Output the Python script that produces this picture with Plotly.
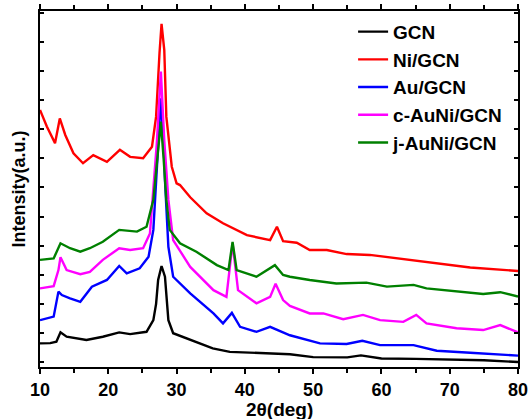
import plotly.graph_objects as go

# ---- data (y in arbitrary offset units) ----
gcn_x = [10, 11.5, 12.4, 13.0, 13.9, 16.8, 19.2, 21.6, 23.2, 25.6, 26.6, 27.0, 27.3, 27.8, 28.3, 28.6, 28.8, 29.5,
         32.0, 35.3, 37.8, 42.7, 46.6, 50, 55, 57, 60, 65, 70, 75, 80]
gcn_y = [0.64, 0.65, 0.70, 1.02, 0.87, 0.76, 0.87, 1.02, 0.96, 1.04, 1.44, 2.0, 2.82, 3.30, 2.93, 2.0, 1.44, 0.99,
         0.76, 0.47, 0.35, 0.30, 0.27, 0.17, 0.16, 0.23, 0.12, 0.11, 0.09, 0.06, 0.0]

ni_x = [10, 11.0, 12.2, 12.9, 13.7, 14.9, 16.3, 17.8, 19.8, 21.7, 23.2, 25.1, 26.4, 27.0, 27.5, 27.8, 28.2, 28.5,
        29.3, 30.0, 30.5, 32.0, 34.4, 36.8, 40.3, 43.7, 44.7, 45.6, 47.6, 49.5, 52.0, 54.9, 58.3, 63.2, 68.1, 73.0, 80]
ni_y = [8.66, 8.09, 7.52, 8.37, 7.80, 7.17, 6.83, 7.11, 6.88, 7.29, 7.05, 7.00, 7.40, 8.43, 10.61, 11.62, 10.72, 8.43,
        6.71, 6.14, 6.08, 5.66, 5.11, 4.77, 4.36, 4.19, 4.65, 4.15, 4.10, 3.85, 3.85, 3.71, 3.68, 3.53, 3.39, 3.25, 3.13]

au_x = [10, 12.0, 12.7, 13.2, 14.4, 15.9, 17.6, 19.8, 21.6, 22.7, 24.6, 25.9, 26.6, 27.2, 27.7, 28.1, 28.3, 28.8,
        29.5, 32.0, 35.4, 36.8, 38.1, 39.3, 41.7, 43.7, 46.6, 51.0, 54.9, 57.2, 59.8, 64.7, 68.1, 73.0, 80]
au_y = [1.44, 1.56, 2.42, 2.30, 2.19, 2.07, 2.59, 2.82, 3.30, 3.05, 3.22, 3.62, 4.54, 7.0, 9.06, 7.5, 6.25, 3.96,
        2.93, 2.36, 1.67, 1.33, 1.69, 1.21, 1.04, 1.21, 0.92, 0.64, 0.62, 0.73, 0.58, 0.58, 0.39, 0.32, 0.22]

cauni_x = [10, 12.0, 12.7, 13.0, 13.9, 15.9, 17.3, 19.2, 21.6, 23.2, 25.1, 26.1, 27.1, 27.7, 28.2, 28.8, 29.5,
           32.0, 35.4, 37.3, 38.2, 39.0, 41.7, 43.7, 44.5, 45.6, 46.6, 49.5, 51.5, 54.4, 57.3, 59.8, 63.2, 65.1,
           66.6, 71.0, 74.9, 77.4, 80]
cauni_y = [2.53, 2.61, 3.16, 3.60, 3.16, 3.02, 3.10, 3.51, 3.91, 3.85, 3.91, 4.42, 7.5, 9.98, 7.6, 5.57, 4.19,
           3.27, 2.47, 2.24, 4.08, 2.47, 2.02, 2.24, 2.69, 2.13, 1.93, 1.67, 1.67, 1.47, 1.62, 1.44, 1.38, 1.62,
           1.33, 1.16, 1.10, 1.27, 1.02]

jauni_x = [10, 12.0, 13.0, 14.4, 15.9, 17.3, 19.2, 21.6, 24.2, 25.6, 26.6, 27.2, 27.7, 28.1, 28.5, 29.0, 30.5,
           32.9, 35.9, 37.6, 38.2, 38.8, 41.7, 44.4, 45.6, 46.6, 49.5, 53.4, 57.8, 60.8, 64.7, 66.6, 71.0, 74.9,
           77.4, 80]
jauni_y = [3.51, 3.56, 4.08, 3.91, 3.79, 3.91, 4.13, 4.54, 4.48, 4.65, 5.57, 7.0, 8.26, 7.0, 5.57, 4.54, 4.08,
           3.79, 3.33, 3.16, 4.13, 3.16, 2.93, 3.33, 2.99, 2.93, 2.82, 2.70, 2.73, 2.59, 2.65, 2.53, 2.42, 2.34,
           2.40, 2.25]

series = [
    ("GCN", gcn_x, gcn_y, "#000000"),
    ("Ni/GCN", ni_x, ni_y, "#ff0000"),
    ("Au/GCN", au_x, au_y, "#0000ff"),
    ("c-AuNi/GCN", cauni_x, cauni_y, "#ff00ff"),
    ("j-AuNi/GCN", jauni_x, jauni_y, "#008000"),
]

FONT = "Liberation Sans, Arial, sans-serif"

fig = go.Figure()
for name, xs, ys, col in series:
    fig.add_trace(go.Scatter(x=xs, y=ys, mode="lines", name=name,
                             line=dict(color=col, width=2.4)))

fig.update_layout(
    width=531, height=419,
    margin=dict(l=40, r=13, t=11, b=52, autoexpand=False),
    paper_bgcolor="white", plot_bgcolor="white",
    font=dict(family=FONT, size=19, color="black", weight="bold"),
    showlegend=True,
    legend=dict(x=0.655, y=0.995, xanchor="left", yanchor="top",
                bgcolor="rgba(0,0,0,0)", borderwidth=0,
                font=dict(family=FONT, size=19, color="black", weight="bold"),
                tracegroupgap=0),
    annotations=[dict(text="2θ(deg)", xref="paper", yref="paper", x=0.5, y=-0.118,
                      xanchor="center", yanchor="middle", showarrow=False,
                      font=dict(family=FONT, size=19, color="black", weight="bold"))],
)
fig.update_xaxes(
    range=[10, 80], dtick=10, tick0=10, automargin=False,
    showline=True, linecolor="black", linewidth=2, mirror="ticks",
    ticks="outside", ticklen=5, tickwidth=2, tickcolor="black",
    minor=dict(dtick=5, ticks="outside", ticklen=4, tickwidth=2, tickcolor="black"),
    showgrid=False, zeroline=False,
    tickfont=dict(family=FONT, size=18, color="black", weight="bold"),
)
fig.update_yaxes(
    range=[-0.17, 12.06], dtick=1, tick0=0, automargin=False,
    showline=True, linecolor="black", linewidth=2, mirror="ticks",
    ticks="inside", ticklen=4, tickwidth=1.5, tickcolor="black",
    showticklabels=False, showgrid=False, zeroline=False,
    title=dict(text="Intensity(a.u.)", standoff=8,
               font=dict(family=FONT, size=18, color="black", weight="bold")),
)

fig.write_html("out.html")
